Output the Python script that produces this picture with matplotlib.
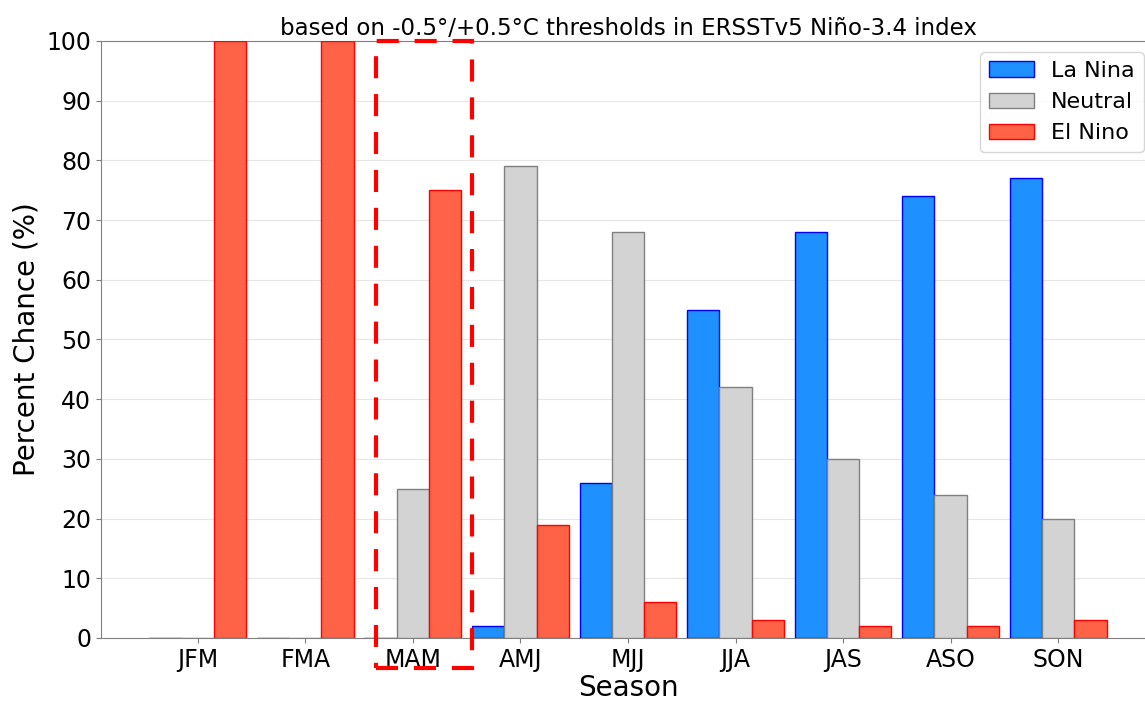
import numpy as np
import matplotlib.pyplot as plt
from matplotlib.patches import Rectangle

seasons = ["JFM", "FMA", "MAM", "AMJ", "MJJ", "JJA", "JAS", "ASO", "SON"]
la_nina = [0, 0, 0, 2, 26, 55, 68, 74, 77]
neutral = [0, 0, 25, 79, 68, 42, 30, 24, 20]
el_nino = [100, 100, 75, 19, 6, 3, 2, 2, 3]

fig = plt.figure(figsize=(11.45, 7.02), dpi=100)
ax = fig.add_axes([0.0882, 0.0912, 0.9205, 0.8504])

x = np.arange(len(seasons))
w = 0.3
ax.bar(x - w, la_nina, w, color="dodgerblue", edgecolor="blue", label="La Nina", zorder=3)
ax.bar(x, neutral, w, color="lightgrey", edgecolor="grey", label="Neutral", zorder=3)
ax.bar(x + w, el_nino, w, color="tomato", edgecolor="red", label="El Nino", zorder=3)

# highlight box around the current season
box = Rectangle((2 - 0.345, -5), 0.895, 105, fill=False, edgecolor="red",
                linestyle=(0, (5.3, 3.8)), linewidth=3, clip_on=False, zorder=5)
ax.add_patch(box)

ax.set_xlim(-0.9, 8.9)
ax.set_ylim(0, 100)
ax.set_yticks(range(0, 101, 10))
ax.set_xticks(x)
ax.set_xticklabels(seasons)
ax.tick_params(labelsize=17, color="grey")
ax.yaxis.grid(True, color="#e6e6e6", zorder=0)
for s in ax.spines.values():
    s.set_color("grey")

ax.set_xlabel("Season", fontsize=20, labelpad=2)
ax.set_ylabel("Percent Chance (%)", fontsize=20)
ax.set_title("based on -0.5\u00b0/+0.5\u00b0C thresholds in ERSSTv5 Ni\u00f1o-3.4 index",
             fontsize=16.5, pad=4)
ax.legend(loc="upper right", fontsize=16)

fig.savefig("out.png")
